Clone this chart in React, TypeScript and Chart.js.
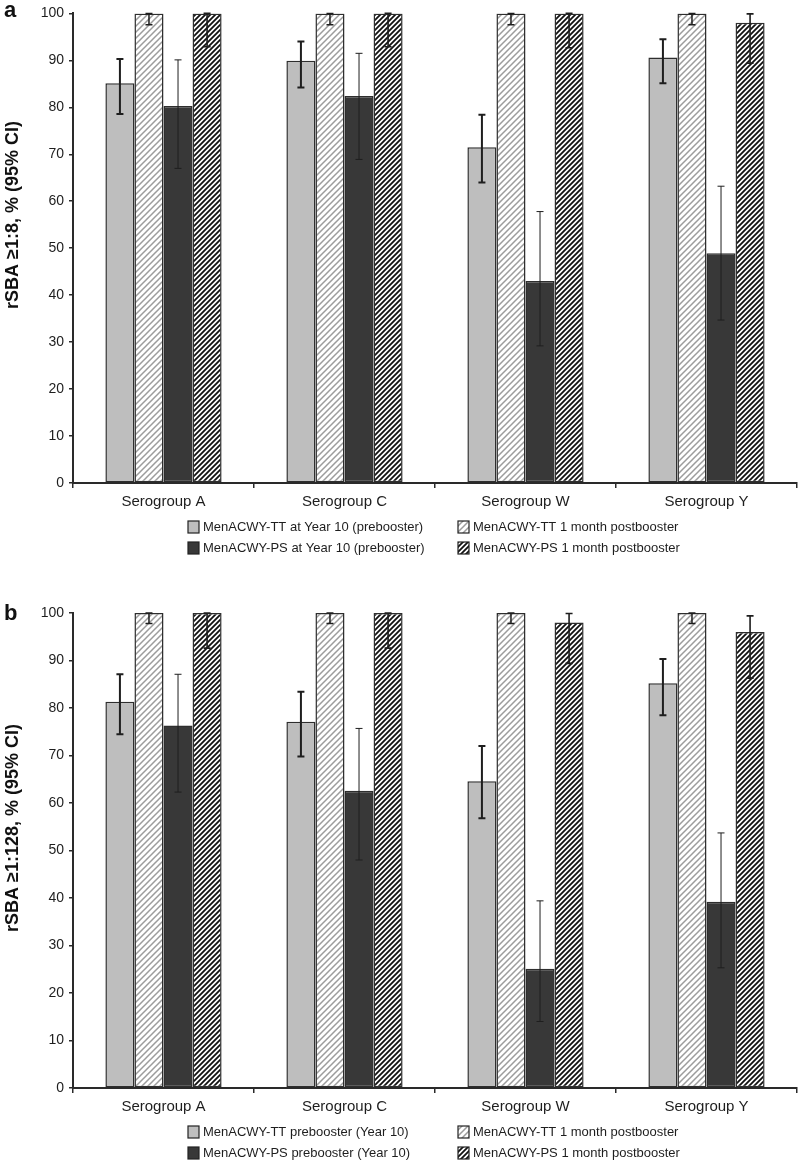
import React, { useEffect, useRef } from "react";
import { Chart, registerables } from "chart.js";

Chart.register(...registerables);
Chart.defaults.font.family = "'Liberation Sans', Arial, Helvetica, sans-serif";

// ---------- data ----------
const categories = ["Serogroup A", "Serogroup C", "Serogroup W", "Serogroup Y"];

// Panel a: rSBA >= 1:8
const aTitle = "rSBA \u22651:8, % (95% CI)";
const aLegend = [
  "MenACWY-TT at Year 10 (prebooster)",
  "MenACWY-TT 1 month postbooster",
  "MenACWY-PS at Year 10 (prebooster)",
  "MenACWY-PS 1 month postbooster",
];
const aTTPre = [85.1, 89.9, 71.5, 90.6];
const aTTPreLo = [78.6, 84.2, 64.0, 85.1];
const aTTPreHi = [90.3, 94.0, 78.4, 94.5];
const aTTPost = [100, 100, 100, 100];
const aTTPostLo = [97.6, 97.6, 97.6, 97.6];
const aTTPostHi = [100, 100, 100, 100];
const aPSPre = [80.3, 82.4, 43.0, 48.9];
const aPSPreLo = [67.0, 68.9, 29.2, 34.7];
const aPSPreHi = [90.1, 91.5, 57.8, 63.2];
const aPSPost = [100, 100, 100, 98.0];
const aPSPostLo = [92.9, 92.9, 92.7, 89.4];
const aPSPostHi = [100, 100, 100, 99.9];

// Panel b: rSBA >= 1:128
const bTitle = "rSBA \u22651:128, % (95% CI)";
const bLegend = [
  "MenACWY-TT prebooster (Year 10)",
  "MenACWY-TT 1 month postbooster",
  "MenACWY-PS prebooster (Year 10)",
  "MenACWY-PS 1 month postbooster",
];
const bTTPre = [81.3, 77.1, 64.6, 85.2];
const bTTPreLo = [74.5, 69.8, 56.8, 78.5];
const bTTPreHi = [87.1, 83.4, 72.0, 90.3];
const bTTPost = [100, 100, 100, 100];
const bTTPostLo = [97.8, 97.8, 97.8, 97.8];
const bTTPostHi = [100, 100, 100, 100];
const bPSPre = [76.3, 62.6, 25.1, 39.2];
const bPSPreLo = [62.3, 48.0, 14.0, 25.3];
const bPSPreHi = [87.1, 75.7, 39.4, 53.7];
const bPSPost = [100, 100, 98.0, 96.0];
const bPSPostLo = [92.6, 92.6, 89.4, 86.3];
const bPSPostHi = [100, 100, 99.9, 99.4];

// ---------- helpers ----------
function makeHatch(color: string, size: number, lw: number): CanvasPattern | string {
  const c = document.createElement("canvas");
  c.width = size;
  c.height = size;
  const g = c.getContext("2d");
  if (!g) return "#fff";
  g.fillStyle = "#fff";
  g.fillRect(0, 0, size, size);
  g.strokeStyle = color;
  g.lineWidth = lw;
  g.beginPath();
  g.moveTo(0, size);
  g.lineTo(size, 0);
  g.moveTo(-2, 2);
  g.lineTo(2, -2);
  g.moveTo(size - 2, size + 2);
  g.lineTo(size + 2, size - 2);
  g.stroke();
  return g.createPattern(c, "repeat") || "#fff";
}

type PanelProps = {
  letter: string;
  title: string;
  legend: string[];
  values: number[][];
  lows: number[][];
  highs: number[][];
  height: number;
  padTop: number;
  plotBottom: number; // y of x axis within canvas
  titleY: number;
  letterY: number;
};

function Panel(p: PanelProps) {
  const ref = useRef<HTMLCanvasElement | null>(null);
  useEffect(() => {
    const canvas = ref.current;
    if (!canvas) return;
    const lightHatch = makeHatch("#9c9c9c", 6, 1.5);
    const darkHatch = makeHatch("#111111", 5, 1.8);
    const fills: any[] = ["#bebebe", lightHatch, "#383838", darkHatch];
    const errWidths = [2, 1.5, 1, 1.6];

    const decor = {
      id: "decor",
      afterDatasetsDraw(chart: any) {
        const ctx = chart.ctx;
        const ys = chart.scales.y;
        ctx.save();
        ctx.strokeStyle = "#1e1e1e";
        for (let d = 0; d < 4; d++) {
          const meta = chart.getDatasetMeta(d);
          ctx.lineWidth = errWidths[d];
          meta.data.forEach((bar: any, i: number) => {
            const x = bar.x;
            const yl = ys.getPixelForValue(p.lows[d][i]);
            const yh = ys.getPixelForValue(p.highs[d][i]);
            const cw = 3.5;
            ctx.beginPath();
            ctx.moveTo(x, yl);
            ctx.lineTo(x, yh);
            ctx.moveTo(x - cw, yl);
            ctx.lineTo(x + cw, yl);
            ctx.moveTo(x - cw, yh);
            ctx.lineTo(x + cw, yh);
            ctx.stroke();
          });
        }
        ctx.restore();
      },
      afterDraw(chart: any) {
        const ctx = chart.ctx;
        const area = chart.chartArea;
        ctx.save();
        // panel letter
        ctx.fillStyle = "#111";
        ctx.font = "bold 22px 'Liberation Sans', Arial, sans-serif";
        ctx.textAlign = "left";
        ctx.textBaseline = "alphabetic";
        ctx.fillText(p.letter, 4, p.letterY);
        // y title
        ctx.save();
        ctx.translate(13, p.titleY);
        ctx.rotate(-Math.PI / 2);
        ctx.font = "bold 18px 'Liberation Sans', Arial, sans-serif";
        ctx.textAlign = "center";
        ctx.textBaseline = "middle";
        ctx.fillText(p.title, 0, 0);
        ctx.restore();
        // legend
        const cols = [188, 458];
        const rows = [area.bottom + 44, area.bottom + 65];
        const layout = [
          [0, 0],
          [1, 0],
          [0, 1],
          [1, 1],
        ];
        ctx.font = "13px 'Liberation Sans', Arial, sans-serif";
        ctx.textBaseline = "middle";
        ctx.textAlign = "left";
        for (let d = 0; d < 4; d++) {
          const x = cols[layout[d][0]];
          const y = rows[layout[d][1]];
          ctx.fillStyle = fills[d];
          ctx.fillRect(x, y - 6, 11, 12);
          ctx.strokeStyle = "#222";
          ctx.lineWidth = 1.2;
          ctx.strokeRect(x, y - 6, 11, 12);
          ctx.fillStyle = "#1e1e1e";
          ctx.fillText(p.legend[d], x + 15, y);
        }
        ctx.restore();
      },
    };

    const xHeight = p.height - p.plotBottom;
    const chart = new Chart(canvas, {
      type: "bar",
      data: {
        labels: categories,
        datasets: p.values.map((v, d) => ({
          label: p.legend[d],
          data: v,
          backgroundColor: fills[d],
          borderColor: "#2e2e2e",
          borderWidth: 1.5,
          borderSkipped: false,
          categoryPercentage: 0.642,
          barPercentage: 1.0,
        })),
      },
      options: {
        responsive: false,
        animation: false,
        devicePixelRatio: 1,
        layout: { padding: { top: p.padTop, right: 3, left: 0, bottom: 0 } },
        plugins: {
          legend: { display: false },
          tooltip: { enabled: false },
          title: { display: false },
        },
        scales: {
          x: {
            offset: true,
            grid: {
              display: true,
              offset: true,
              drawOnChartArea: false,
              drawTicks: true,
              tickLength: 5,
              color: "#2a2a2a",
              lineWidth: 1.5,
            },
            border: { display: true, color: "#2a2a2a", width: 2 },
            ticks: {
              color: "#1e1e1e",
              font: { size: 15 },
              padding: 5,
              maxRotation: 0,
              autoSkip: false,
            },
            afterFit: (s: any) => {
              s.height = xHeight;
            },
          },
          y: {
            min: 0,
            max: 100,
            ticks: { stepSize: 10, color: "#1e1e1e", font: { size: 14 }, padding: 5 },
            grid: {
              drawOnChartArea: false,
              drawTicks: true,
              tickLength: 4,
              color: "#2a2a2a",
              lineWidth: 1.5,
            },
            border: { display: true, color: "#2a2a2a", width: 2 },
            afterFit: (s: any) => {
              s.width = 73;
            },
          },
        },
      },
      plugins: [decor],
    } as any);
    return () => chart.destroy();
  }, []);
  return (
    <canvas
      ref={ref}
      width={800}
      height={p.height}
      style={{ display: "block", width: 800, height: p.height }}
    />
  );
}

export default function App() {
  return (
    <div
      style={{
        position: "absolute",
        left: 0,
        top: 0,
        width: 800,
        height: 1163,
        background: "#fff",
      }}
    >
      <Panel
        letter="a"
        title={aTitle}
        legend={aLegend}
        values={[aTTPre, aTTPost, aPSPre, aPSPost]}
        lows={[aTTPreLo, aTTPostLo, aPSPreLo, aPSPostLo]}
        highs={[aTTPreHi, aTTPostHi, aPSPreHi, aPSPostHi]}
        height={580}
        padTop={7}
        plotBottom={483}
        titleY={215}
        letterY={17}
      />
      <Panel
        letter="b"
        title={bTitle}
        legend={bLegend}
        values={[bTTPre, bTTPost, bPSPre, bPSPost]}
        lows={[bTTPreLo, bTTPostLo, bPSPreLo, bPSPostLo]}
        highs={[bTTPreHi, bTTPostHi, bPSPreHi, bPSPostHi]}
        height={583}
        padTop={33}
        plotBottom={508}
        titleY={248}
        letterY={40}
      />
    </div>
  );
}
